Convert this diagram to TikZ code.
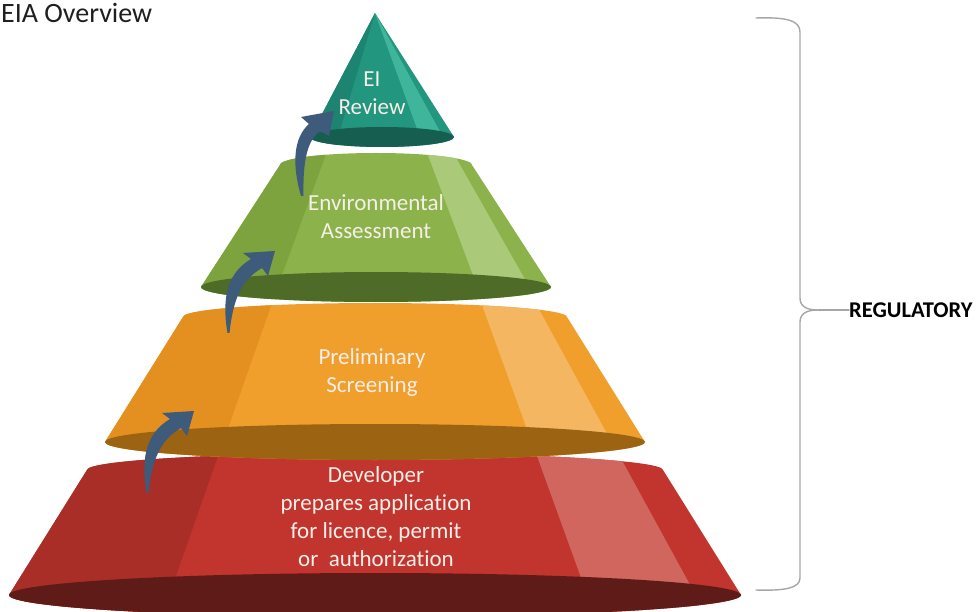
\documentclass[tikz,border=0pt]{standalone}
\usepackage{fontspec}
\setmainfont{Carlito}[Ligatures={NoCommon,NoRequired,NoContextual}]
\usetikzlibrary{calc}
\definecolor{redmain}{HTML}{C1352E}
\definecolor{redleft}{HTML}{AA2E28}
\definecolor{redlight}{HTML}{D0665E}
\definecolor{reddark}{HTML}{5E1B17}
\definecolor{orgmain}{HTML}{F09E2C}
\definecolor{orgleft}{HTML}{E39020}
\definecolor{orglight}{HTML}{F4B660}
\definecolor{orgdark}{HTML}{9C6313}
\definecolor{grnmain}{HTML}{8CB34B}
\definecolor{grnleft}{HTML}{7CA33D}
\definecolor{grnlight}{HTML}{AACA79}
\definecolor{grndark}{HTML}{4E6B27}
\definecolor{tealmain}{HTML}{22967E}
\definecolor{tealleft}{HTML}{1C8470}
\definecolor{teallight}{HTML}{3FB69C}
\definecolor{tealdark}{HTML}{155E50}
\definecolor{txtc}{HTML}{F6EEE8}
\definecolor{arrowc}{HTML}{3E5B7B}
\definecolor{bracec}{HTML}{A6A6A6}
% #1 cx, #2 top y, #3 top rx, #4 top ry, #5 bottom y, #6 bottom rx, #7 bottom ry, #8 colour prefix
\newcommand{\tierbody}[8]{%
  \fill[#8main] ({#1-#3},#2) arc[start angle=180,end angle=0,x radius=#3pt,y radius=#4pt]
     -- ({#1+#6},#5) arc[start angle=360,end angle=180,x radius=#6pt,y radius=#7pt] -- cycle;
  \begin{scope}
    \clip ({#1-#3},#2) arc[start angle=180,end angle=0,x radius=#3pt,y radius=#4pt]
     -- ({#1+#6},#5) arc[start angle=360,end angle=180,x radius=#6pt,y radius=#7pt] -- cycle;
    \coordinate (Lt) at ({#1-0.562*#3},#2);
    \coordinate (Lb) at ({#1-0.562*#6},#5);
    \coordinate (Pt) at ({#1+0.58*#3},#2);
    \coordinate (Pb) at ({#1+0.58*#6},#5);
    \coordinate (Qt) at ({#1+0.876*#3},#2);
    \coordinate (Qb) at ({#1+0.876*#6},#5);
    \fill[#8left] ($(Lt)!-1!(Lb)$) -- ($(Lt)!2!(Lb)$) -- ({#1-2*#6},{#5+100}) -- ({#1-2*#6},{#2-100}) -- cycle;
    \fill[#8light] ($(Pt)!-1!(Pb)$) -- ($(Pt)!2!(Pb)$) -- ($(Qt)!2!(Qb)$) -- ($(Qt)!-1!(Qb)$) -- cycle;
  \end{scope}
  \fill[#8dark] (#1,#5) ellipse [x radius=#6pt, y radius=#7pt];
}
\tikzset{
  tiertext/.style={text=txtc, font=\fontsize{23}{28}\selectfont, align=center, inner sep=0pt},
  bracestyle/.style={draw=bracec, line width=1.4pt, line cap=round},
  arrowfill/.style={fill=arrowc}
}
\begin{document}
\begin{tikzpicture}[x=1pt,y=-1pt]
\useasboundingbox (0,0) rectangle (980,612);
\fill[white] (0,0) rectangle (980,612);

% tiers, bottom to top
\tierbody{375}{470}{288}{17}{595}{366}{22}{red}
\tierbody{375}{317}{192}{14}{442}{270}{18}{org}
\tierbody{376}{165}{96}{12}{287}{175}{15}{grn}

% top cone
\coordinate (apex) at (375,13);
\fill[tealmain] (apex) -- (310,137) arc[start angle=180,end angle=360,x radius=72pt,y radius=10pt] -- cycle;
\begin{scope}
  \clip (apex) -- (310,137) arc[start angle=180,end angle=360,x radius=72pt,y radius=10pt] -- cycle;
  \coordinate (cl) at (338,137);
  \coordinate (cp) at (420,137);
  \coordinate (cq) at (443,137);
  \fill[tealleft] (apex) -- ($(apex)!1.5!(cl)$) -- (250,220) -- (250,0) -- cycle;
  \fill[teallight] (apex) -- ($(apex)!1.5!(cp)$) -- ($(apex)!1.5!(cq)$) -- cycle;
\end{scope}
\fill[tealdark] (382,137) ellipse [x radius=72pt, y radius=10pt];

% curved arrows
\fill[arrowfill] (146.5,493) .. controls (140,455) and (148,432) .. (170,419) -- (162,413) -- (194,411)
   -- (187,436) -- (181,428) .. controls (160,440) and (152,460) .. (148.5,493) -- cycle;
\begin{scope}[shift={(81,-160)}]
\fill[arrowfill] (146.5,493) .. controls (140,455) and (148,432) .. (170,419) -- (162,413) -- (194,411)
   -- (187,436) -- (181,428) .. controls (160,440) and (152,460) .. (148.5,493) -- cycle;
\end{scope}
\fill[arrowfill] (301,196) .. controls (292,165) and (293,138) .. (309,124) -- (301,117) -- (334,111)
   -- (329,136) -- (320,131) .. controls (305,142) and (303,168) .. (303.5,196) -- cycle;

% texts
\node[tiertext] (ei) at (372,93) {EI\\Review};
\node[tiertext] (ea) at (376,217) {Environmental\\Assessment};
\node[tiertext] (ps) at (372,372) {Preliminary\\Screening};
\node[tiertext] (dev) at (376,517) {Developer\\prepares application\\for licence, permit\\or~~authorization};

% title
\node[anchor=base west, inner sep=0pt, text=black!88, font=\fontsize{28}{34}\selectfont] (title) at (1,23) {EIA Overview};

% brace and label
\coordinate (btop) at (756,18);
\coordinate (btip) at (818,310);
\coordinate (bbot) at (756,590);
\draw[bracestyle] (btop) .. controls (785,17) and (800,20) .. (800,32) -- (800,298)
   .. controls (800,306) and (806,310) .. (btip) .. controls (806,310) and (800,314) .. (800,322)
   -- (800,578) .. controls (800,588) and (785,591) .. (bbot);
\node[anchor=west, inner sep=0pt, text=black, font=\bfseries\fontsize{22.5}{27}\selectfont] (reg) at (849,310) {REGULATORY};
\draw[bracestyle] (btip) -- (reg.west);
\end{tikzpicture}
\end{document}
